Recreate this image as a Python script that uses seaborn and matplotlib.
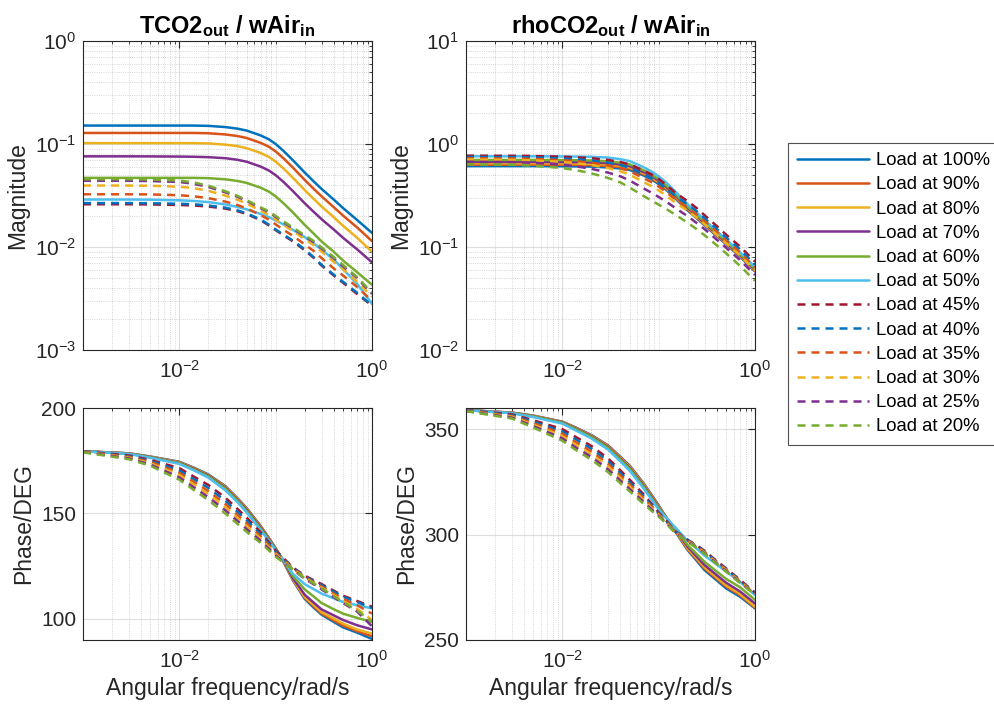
import numpy as np
import pandas as pd
import matplotlib
matplotlib.use("Agg")
import matplotlib.pyplot as plt
from matplotlib.lines import Line2D
from matplotlib.ticker import FixedLocator, LogFormatterSciNotation, NullFormatter, LogLocator
import seaborn as sns

# ------------------------------------------
# Data
# ------------------------------------------
freq = [0.001, 0.003, 0.005, 0.01, 0.014, 0.02, 0.03, 0.04, 0.05, 0.07, 0.085,
        0.1, 0.12, 0.15, 0.2, 0.25, 0.3, 0.4, 0.5, 0.7, 1.0]

loads = ["100%", "90%", "80%", "70%", "60%", "50%",
         "45%", "40%", "35%", "30%", "25%", "20%"]
colors = ["#0072BD", "#D95319", "#EDB120", "#7E2F8E", "#77AC30", "#4DBEEE",
          "#A2142F", "#0072BD", "#D95319", "#EDB120", "#7E2F8E", "#77AC30"]
dashed = [False] * 6 + [True] * 6

# TCO2_out / wAir_in, magnitude
tco2_mag = [
    [0.151, 0.151, 0.151, 0.151, 0.151, 0.150, 0.146, 0.141, 0.135, 0.121, 0.111, 0.100, 0.086, 0.070, 0.0529, 0.0430, 0.0366, 0.0289, 0.0239, 0.0183, 0.0137],
    [0.128, 0.128, 0.128, 0.128, 0.128, 0.1271, 0.1238, 0.1196, 0.1144, 0.1025, 0.0941, 0.0847, 0.0730, 0.0594, 0.0448, 0.0365, 0.0310, 0.0244, 0.0202, 0.0155, 0.0114],
    [0.102, 0.102, 0.102, 0.102, 0.102, 0.1013, 0.0986, 0.0953, 0.0912, 0.0817, 0.0750, 0.0675, 0.0581, 0.0473, 0.0357, 0.0291, 0.0247, 0.0195, 0.0161, 0.0123, 0.0090],
    [0.0759, 0.0759, 0.0758, 0.0755, 0.0752, 0.0745, 0.0728, 0.0703, 0.0673, 0.0603, 0.0553, 0.0498, 0.0430, 0.0351, 0.0266, 0.0218, 0.0186, 0.0148, 0.0123, 0.0095, 0.0071],
    [0.0469, 0.0469, 0.0469, 0.0469, 0.0469, 0.0466, 0.0454, 0.0438, 0.0419, 0.0376, 0.0345, 0.0310, 0.0267, 0.0218, 0.0164, 0.0134, 0.0113, 0.0090, 0.0074, 0.0057, 0.0043],
    [0.0289, 0.0289, 0.0288, 0.0284, 0.0280, 0.0273, 0.0259, 0.0245, 0.0232, 0.0209, 0.0195, 0.0181, 0.0166, 0.0147, 0.0125, 0.0108, 0.0094, 0.0076, 0.0061, 0.0044, 0.0028],
    [0.0260, 0.0260, 0.0259, 0.0256, 0.0253, 0.0247, 0.0236, 0.0223, 0.0209, 0.0182, 0.0162, 0.0146, 0.0130, 0.0114, 0.0093, 0.0078, 0.0066, 0.0053, 0.0045, 0.0035, 0.0027],
    [0.0267, 0.0267, 0.0266, 0.0263, 0.0260, 0.0253, 0.0241, 0.0227, 0.0212, 0.0185, 0.0165, 0.0148, 0.0132, 0.0116, 0.0095, 0.0079, 0.0067, 0.0054, 0.0046, 0.0036, 0.0027],
    [0.0325, 0.0325, 0.0324, 0.0318, 0.0311, 0.0298, 0.0276, 0.0256, 0.0237, 0.0204, 0.0184, 0.0166, 0.0147, 0.0129, 0.0106, 0.0091, 0.0078, 0.0062, 0.0053, 0.0041, 0.0030],
    [0.0395, 0.0395, 0.0393, 0.0385, 0.0373, 0.0351, 0.0316, 0.0288, 0.0264, 0.0225, 0.0205, 0.0185, 0.0164, 0.0144, 0.0119, 0.0104, 0.0090, 0.0072, 0.0061, 0.0046, 0.0033],
    [0.0440, 0.0440, 0.0437, 0.0428, 0.0411, 0.0383, 0.0340, 0.0308, 0.0280, 0.0238, 0.0218, 0.0196, 0.0175, 0.0152, 0.0127, 0.0111, 0.0097, 0.0078, 0.0065, 0.0050, 0.0035],
    [0.0455, 0.0455, 0.0452, 0.0442, 0.0424, 0.0394, 0.0348, 0.0314, 0.0285, 0.0242, 0.0222, 0.0200, 0.0178, 0.0155, 0.0130, 0.0114, 0.0099, 0.0080, 0.0067, 0.0051, 0.0036],
]

# rhoCO2_out / wAir_in, magnitude
rho_mag = [
    [0.610, 0.610, 0.610, 0.608, 0.606, 0.603, 0.592, 0.579, 0.560, 0.494, 0.452, 0.408, 0.358, 0.294, 0.226, 0.189, 0.162, 0.128, 0.1064, 0.0806, 0.0578],
    [0.630, 0.630, 0.630, 0.628, 0.626, 0.623, 0.612, 0.596, 0.576, 0.507, 0.463, 0.419, 0.367, 0.300, 0.230, 0.192, 0.165, 0.130, 0.108, 0.0817, 0.0586],
    [0.650, 0.650, 0.650, 0.648, 0.646, 0.642, 0.631, 0.614, 0.593, 0.521, 0.475, 0.429, 0.375, 0.307, 0.235, 0.196, 0.167, 0.132, 0.110, 0.0828, 0.0594],
    [0.670, 0.670, 0.670, 0.668, 0.666, 0.662, 0.651, 0.632, 0.609, 0.534, 0.487, 0.440, 0.383, 0.314, 0.239, 0.200, 0.170, 0.134, 0.111, 0.0839, 0.0602],
    [0.700, 0.700, 0.700, 0.698, 0.696, 0.692, 0.679, 0.658, 0.633, 0.555, 0.503, 0.455, 0.396, 0.323, 0.246, 0.205, 0.174, 0.137, 0.114, 0.0855, 0.0614],
    [0.760, 0.760, 0.760, 0.757, 0.755, 0.751, 0.738, 0.712, 0.682, 0.595, 0.538, 0.486, 0.422, 0.343, 0.260, 0.215, 0.183, 0.143, 0.119, 0.0888, 0.0637],
    [0.770, 0.768, 0.765, 0.752, 0.742, 0.728, 0.700, 0.668, 0.635, 0.552, 0.505, 0.458, 0.400, 0.335, 0.278, 0.237, 0.203, 0.160, 0.132, 0.101, 0.072],
    [0.748, 0.746, 0.741, 0.724, 0.711, 0.692, 0.659, 0.624, 0.587, 0.507, 0.463, 0.420, 0.369, 0.311, 0.259, 0.221, 0.190, 0.150, 0.124, 0.0946, 0.0675],
    [0.727, 0.723, 0.717, 0.697, 0.680, 0.658, 0.620, 0.583, 0.544, 0.465, 0.424, 0.386, 0.340, 0.289, 0.241, 0.206, 0.178, 0.141, 0.116, 0.0887, 0.0634],
    [0.706, 0.703, 0.694, 0.672, 0.651, 0.625, 0.583, 0.544, 0.503, 0.427, 0.388, 0.354, 0.314, 0.269, 0.224, 0.192, 0.166, 0.132, 0.109, 0.0831, 0.0594],
    [0.673, 0.668, 0.656, 0.631, 0.606, 0.574, 0.527, 0.486, 0.442, 0.370, 0.335, 0.306, 0.275, 0.238, 0.199, 0.170, 0.149, 0.118, 0.0986, 0.0746, 0.0534],
    [0.635, 0.630, 0.615, 0.585, 0.556, 0.519, 0.467, 0.424, 0.378, 0.312, 0.281, 0.258, 0.234, 0.205, 0.172, 0.148, 0.130, 0.104, 0.087, 0.0655, 0.047],
]

# TCO2_out / wAir_in, phase (deg)
tco2_phase = [
    [179.5, 178.5, 177.0, 174.5, 171.8, 168.5, 163.0, 157.3, 152.5, 144.0, 138.4, 133.5, 127.3, 118.5, 109.5, 105.2, 102.0, 98.6, 96.0, 93.5, 90.5],
    [179.5, 178.5, 176.9, 174.3, 171.6, 168.2, 162.8, 157.1, 152.3, 143.8, 138.3, 133.4, 127.4, 118.8, 110.0, 105.8, 102.5, 99.3, 96.8, 94.2, 91.8],
    [179.5, 178.4, 176.8, 174.2, 171.4, 168.0, 162.5, 156.8, 152.0, 143.5, 138.1, 133.3, 127.5, 119.0, 110.5, 106.5, 103.2, 100.2, 97.8, 95.0, 93.0],
    [179.5, 178.4, 176.7, 174.0, 171.2, 167.8, 162.2, 156.5, 151.7, 143.2, 137.9, 133.2, 127.6, 119.5, 111.5, 107.6, 104.5, 101.7, 99.5, 97.0, 95.0],
    [179.5, 178.3, 176.6, 173.8, 170.9, 167.5, 161.8, 156.1, 151.2, 142.7, 137.5, 133.0, 127.9, 120.5, 114.0, 110.5, 107.5, 104.6, 102.5, 100.5, 98.5],
    [179.5, 178.2, 176.4, 173.5, 170.5, 167.0, 161.0, 155.4, 150.5, 142.0, 137.0, 132.5, 128.1, 121.5, 116.5, 114.0, 112.0, 109.8, 108.0, 106.5, 105.0],
    [179.5, 177.5, 175.4, 171.5, 167.6, 163.5, 157.5, 152.2, 148.0, 141.0, 136.4, 132.5, 128.9, 124.5, 120.5, 118.3, 116.5, 113.4, 111.0, 108.5, 105.8],
    [179.4, 177.1, 174.9, 170.4, 166.4, 162.1, 156.0, 150.8, 146.7, 140.0, 135.6, 131.9, 128.5, 124.3, 120.2, 117.9, 116.0, 112.9, 110.5, 108.0, 105.2],
    [179.3, 176.8, 174.4, 169.3, 165.1, 160.6, 154.5, 149.3, 145.3, 139.0, 134.8, 131.3, 128.0, 124.0, 119.8, 117.3, 115.3, 112.0, 109.5, 106.5, 102.5],
    [179.2, 176.4, 173.8, 168.2, 163.8, 159.2, 153.0, 147.9, 144.0, 138.0, 134.0, 130.7, 127.6, 123.8, 119.5, 116.9, 114.8, 111.3, 108.5, 104.8, 99.5],
    [179.1, 176.1, 173.2, 167.1, 162.5, 157.7, 151.5, 146.5, 142.6, 137.0, 133.3, 130.1, 127.1, 123.5, 119.0, 116.3, 114.0, 110.3, 107.5, 103.5, 96.5],
    [179.0, 175.7, 172.6, 166.0, 161.3, 156.3, 150.0, 145.1, 141.3, 136.0, 132.5, 129.5, 126.8, 123.6, 119.3, 116.7, 114.5, 110.8, 108.0, 104.0, 98.5],
]

# rhoCO2_out / wAir_in, phase (deg)
rho_phase = [
    [359.0, 357.8, 356.4, 353.5, 350.6, 347.2, 342.2, 336.9, 332.7, 324.2, 318.6, 313.8, 308.1, 301.2, 292.6, 287.4, 283.1, 278.3, 274.5, 270.5, 265.0],
    [359.0, 357.8, 356.3, 353.4, 350.5, 347.0, 342.0, 336.6, 332.4, 323.9, 318.3, 313.5, 308.1, 301.5, 293.0, 288.0, 283.8, 279.0, 275.3, 271.2, 265.3],
    [359.0, 357.7, 356.2, 353.3, 350.3, 346.8, 341.7, 336.3, 332.1, 323.5, 317.9, 313.2, 308.1, 301.8, 293.5, 288.6, 284.5, 279.7, 276.0, 271.8, 265.8],
    [359.0, 357.7, 356.1, 353.2, 350.1, 346.6, 341.4, 335.9, 331.7, 323.1, 317.6, 312.9, 308.1, 302.2, 294.2, 289.4, 285.5, 280.8, 277.2, 273.0, 267.3],
    [359.0, 357.6, 356.0, 353.0, 349.8, 346.3, 341.0, 335.5, 331.2, 322.6, 317.1, 312.5, 308.0, 302.5, 295.0, 290.6, 287.0, 282.5, 279.0, 275.0, 269.0],
    [359.0, 357.5, 355.7, 352.6, 349.2, 345.6, 340.2, 334.7, 330.3, 321.8, 316.4, 311.8, 307.9, 303.2, 297.0, 293.2, 290.0, 285.8, 282.5, 277.6, 271.3],
    [359.0, 357.0, 354.2, 350.0, 346.1, 342.0, 336.0, 330.4, 326.0, 319.0, 314.4, 310.5, 306.6, 301.5, 297.5, 294.8, 292.3, 287.5, 284.0, 278.5, 272.5],
    [358.9, 356.6, 353.5, 348.9, 344.9, 340.7, 334.7, 329.2, 324.9, 318.1, 313.7, 310.1, 306.3, 301.3, 297.3, 294.6, 292.0, 287.2, 283.7, 278.2, 272.3],
    [358.8, 356.2, 352.8, 347.8, 343.6, 339.4, 333.4, 328.0, 323.8, 317.2, 313.1, 309.7, 306.0, 301.1, 297.1, 294.3, 291.7, 286.9, 283.4, 277.9, 272.1],
    [358.7, 355.8, 352.1, 346.7, 342.4, 338.1, 332.1, 326.8, 322.7, 316.3, 312.4, 309.3, 305.8, 300.9, 296.9, 294.1, 291.4, 286.6, 283.1, 277.6, 271.9],
    [358.6, 355.4, 351.4, 345.6, 341.1, 336.8, 330.8, 325.6, 321.6, 315.4, 311.8, 308.9, 305.5, 300.7, 296.7, 293.8, 291.1, 286.3, 282.8, 277.3, 271.7],
    [358.5, 355.0, 350.7, 344.5, 339.9, 335.5, 329.5, 324.4, 320.5, 314.5, 311.1, 308.5, 305.2, 300.5, 296.5, 293.6, 290.8, 286.0, 282.5, 277.0, 271.5],
]

# ------------------------------------------
# Style
# ------------------------------------------
sns.set_theme(style="white")
plt.rcParams["font.family"] = ["Liberation Sans", "DejaVu Sans"]
plt.rcParams["mathtext.fontset"] = "custom"
plt.rcParams["mathtext.rm"] = "Liberation Sans"
plt.rcParams["mathtext.bf"] = "Liberation Sans:bold"
plt.rcParams["mathtext.it"] = "Liberation Sans:italic"

ink = (0.15, 0.15, 0.15)
labels = ["Load at " + l for l in loads]
palette = dict(zip(labels, colors))
dash_map = {lab: ((3.2, 2.4) if d else "") for lab, d in zip(labels, dashed)}


def long_df(values):
    rows = []
    for lab, vals in zip(labels, values):
        for f, v in zip(freq, vals):
            rows.append({"w": f, "val": v, "load": lab})
    return pd.DataFrame(rows)


fig = plt.figure(figsize=(9.95, 7.11), dpi=100)
W, H = 995, 711


def add_ax(x0, x1, y0, y1):
    return fig.add_axes([x0 / W, 1 - y1 / H, (x1 - x0) / W, (y1 - y0) / H])


ax_tl = add_ax(83, 372, 41, 350)
ax_tr = add_ax(466, 755, 41, 350)
ax_bl = add_ax(83, 372, 408, 640)
ax_br = add_ax(466, 755, 408, 640)

x_minor = [s * 10.0 ** k for k in (-3, -2, -1) for s in range(1, 10) if not (k == -2 and s == 1)]

panels = [
    (ax_tl, tco2_mag, "log", (1e-3, 1e0), [1e-3, 1e-2, 1e-1, 1e0], "Magnitude"),
    (ax_tr, rho_mag, "log", (1e-2, 1e1), [1e-2, 1e-1, 1e0, 1e1], "Magnitude"),
    (ax_bl, tco2_phase, "linear", (90, 200), [100, 150, 200], "Phase/DEG"),
    (ax_br, rho_phase, "linear", (250, 360), [250, 300, 350], "Phase/DEG"),
]

for ax, values, yscale, ylim, yticks, ylab in panels:
    sns.lineplot(data=long_df(values), x="w", y="val", hue="load", style="load",
                 hue_order=labels, style_order=labels, palette=palette, dashes=dash_map,
                 estimator=None, sort=False, lw=1.8, legend=False, ax=ax)
    ax.set_xscale("log")
    ax.set_yscale(yscale)
    ax.set_xlim(1e-3, 1e0)
    ax.set_ylim(*ylim)
    ax.xaxis.set_major_locator(FixedLocator([1e-2, 1e0]))
    ax.xaxis.set_minor_locator(FixedLocator(x_minor))
    ax.xaxis.set_major_formatter(LogFormatterSciNotation())
    ax.xaxis.set_minor_formatter(NullFormatter())
    ax.yaxis.set_major_locator(FixedLocator(yticks))
    if yscale == "log":
        ax.yaxis.set_minor_locator(LogLocator(base=10, subs=np.arange(2, 10)))
        ax.yaxis.set_major_formatter(LogFormatterSciNotation())
        ax.yaxis.set_minor_formatter(NullFormatter())
    ax.grid(which="major", color=ink, alpha=0.15, lw=0.8, ls="-")
    ax.grid(which="minor", color=ink, alpha=0.25, lw=0.6, ls=":")
    ax.set_axisbelow(True)
    ax.tick_params(which="both", direction="in", top=True, right=True, colors=ink,
                   labelsize=15, labelcolor=ink)
    ax.tick_params(which="major", length=5, width=0.8)
    ax.tick_params(which="minor", length=2.5, width=0.6)
    ax.tick_params(axis="x", which="major", pad=7)
    ax.tick_params(axis="y", which="major", pad=5)
    for sp in ax.spines.values():
        sp.set_color(ink)
        sp.set_linewidth(0.8)
    ax.set_ylabel(ylab, fontsize=16.5, color=ink)
    ax.set_xlabel("")

ax_bl.set_xlabel("Angular frequency/rad/s", fontsize=16.5, color=ink)
ax_br.set_xlabel("Angular frequency/rad/s", fontsize=16.5, color=ink)

ax_tl.set_title(r"TCO2$_{\mathbf{out}}$ / wAir$_{\mathbf{in}}$", fontsize=17,
                fontweight="bold", color="black", pad=6)
ax_tr.set_title(r"rhoCO2$_{\mathbf{out}}$ / wAir$_{\mathbf{in}}$", fontsize=17,
                fontweight="bold", color="black", pad=6)

handles = [Line2D([0], [0], color=c, lw=1.8, ls=((0, (3.2, 2.4)) if d else "-"))
           for c, d in zip(colors, dashed)]
leg = fig.legend(handles, labels, loc="upper left", bbox_to_anchor=(788 / W, 1 - 143 / H),
                 frameon=True, fancybox=False, fontsize=13.3, handlelength=3.9,
                 handletextpad=0.35, labelspacing=0.39, borderpad=0.5, borderaxespad=0)
leg.get_frame().set_edgecolor(ink)
leg.get_frame().set_linewidth(0.8)
for t in leg.get_texts():
    t.set_color("black")

fig.savefig("out.png", dpi=100)
